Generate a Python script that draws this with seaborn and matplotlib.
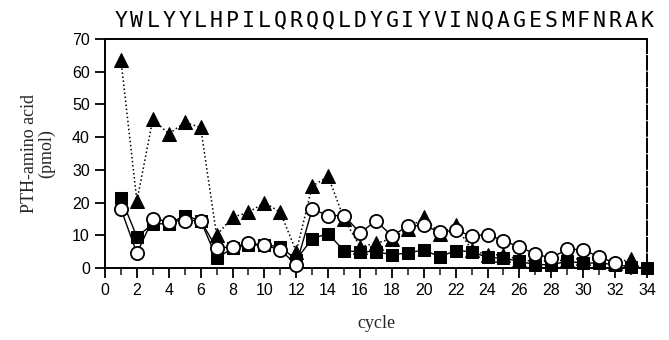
import matplotlib
matplotlib.use("Agg")
import matplotlib.pyplot as plt
import matplotlib.transforms as mtransforms
from matplotlib.ticker import MultipleLocator
import seaborn as sns
import pandas as pd

# Edman degradation yields per cycle
sequence = list("YWLYYLHPILQRQQLDYGIYVINQAGESMFNRAK")

cycles_tri = list(range(1, 34))
yield_tri = [63.5, 20.5, 45.5, 41, 44.5, 43, 10, 15.5, 17, 20, 17, 5, 25, 28, 15,
             6.5, 7.5, 9, 12, 15.5, 10.5, 13, 5.5, 4, 4, 2.5, 2, 2, 2.5, 3, 2, 1.5, 2.8]

cycles_sq = list(range(1, 35))
yield_sq = [21.5, 9.5, 13.5, 13.5, 16, 14.5, 3, 6, 7, 7, 6.5, 2.5, 9, 10.5, 5.2,
            5, 5, 4, 4.6, 5.5, 3.4, 5.3, 5, 3.2, 3, 2, 1, 1, 2, 1.5, 1.5, 1, 0.3, 0]

cycles_circ = list(range(1, 33))
yield_circ = [18, 4.5, 15, 14.2, 14.5, 14.5, 6, 6.5, 7.5, 7, 5.5, 1, 18, 16, 16,
              10.7, 14.4, 9.8, 12.8, 13, 11, 11.5, 9.8, 10.2, 8.3, 6.4, 4.3, 3,
              5.8, 5.5, 3.4, 1.5]

sns.set_style("ticks")
plt.rcParams["font.family"] = ["Liberation Sans", "DejaVu Sans"]

fig = plt.figure(figsize=(6.69, 3.40), dpi=100)
ax = fig.add_axes([0.157, 0.212, 0.81, 0.673])

sq = pd.DataFrame({"cycle": cycles_sq, "pmol": yield_sq})
tri = pd.DataFrame({"cycle": cycles_tri, "pmol": yield_tri})
circ = pd.DataFrame({"cycle": cycles_circ, "pmol": yield_circ})

sns.lineplot(data=sq, x="cycle", y="pmol", ax=ax, color="black", linewidth=1.0,
             marker="s", markersize=9, markerfacecolor="black",
             markeredgecolor="black", clip_on=False, zorder=3)
sns.lineplot(data=tri, x="cycle", y="pmol", ax=ax, color="black", linewidth=1.1,
             linestyle=":", marker="^", markersize=10.5, markerfacecolor="black",
             markeredgecolor="black", clip_on=False, zorder=4)
sns.lineplot(data=circ, x="cycle", y="pmol", ax=ax, color="black", linewidth=1.0,
             marker="o", markersize=9.5, markerfacecolor="white",
             markeredgecolor="black", markeredgewidth=1.3, clip_on=False, zorder=5)

ax.set_xlim(0, 34)
ax.set_ylim(0, 70)
ax.xaxis.set_major_locator(MultipleLocator(2))
ax.xaxis.set_minor_locator(MultipleLocator(1))
ax.yaxis.set_major_locator(MultipleLocator(10))
ax.tick_params(axis="both", which="major", direction="out", length=7, width=1.3,
               labelsize=11.5, colors="black", pad=4)
ax.tick_params(axis="x", which="minor", direction="out", length=5, width=1.2)

for side in ["left", "bottom", "top"]:
    ax.spines[side].set_linewidth(1.4)
    ax.spines[side].set_color("black")
ax.spines["right"].set_linewidth(1.4)
ax.spines["right"].set_linestyle((0, (7, 1.5)))
ax.spines["right"].set_color("black")

ax.set_xlabel("cycle", family=["Liberation Serif", "DejaVu Serif"], fontsize=13,
              labelpad=12)
ax.set_ylabel("PTH-amino acid\n(pmol)", family=["Liberation Serif", "DejaVu Serif"],
              fontsize=13, labelpad=12, linespacing=1.0)

# one residue letter above each cycle
trans = mtransforms.blended_transform_factory(ax.transData, ax.transAxes)
for i, letter in enumerate(sequence, start=1):
    ax.text(i, 1.055, letter, transform=trans, ha="center", va="baseline",
            fontsize=15.5, family=["DejaVu Sans Mono"], color="black")

fig.savefig("out.png", dpi=100)
